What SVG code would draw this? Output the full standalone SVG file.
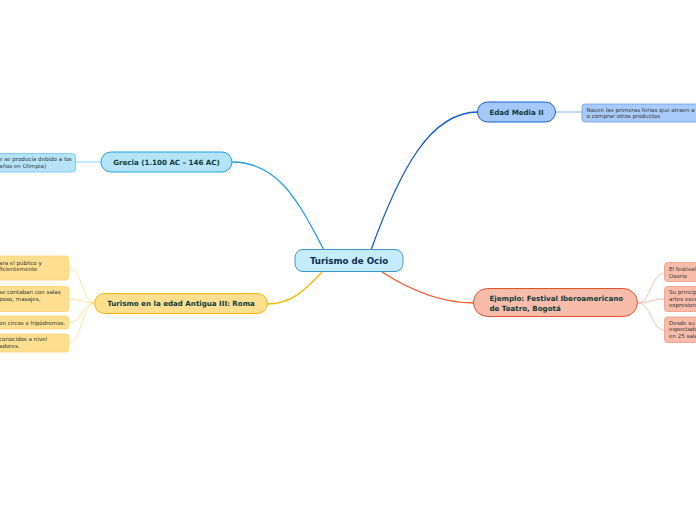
<svg xmlns="http://www.w3.org/2000/svg" width="696" height="520" viewBox="0 0 696 520">
<style>
text{font-family:"DejaVu Sans",Verdana,sans-serif}
.bt{font-weight:bold;font-size:7.1px;fill:#0f3b3a}
.ct{font-size:5.55px;fill:#333}
.main{fill:none;stroke-width:1.3}
.sub{fill:none;stroke-width:0.8}
</style>
<rect width="696" height="520" fill="#fff"/>
<g id="connectors">
<path class="main" d="M324,250 C300,205 280,162 232,162" stroke="#1aa0e8"/>
<path class="main" d="M371,250 C400,170 430,112 478,112" stroke="#0f5bd0"/>
<path class="main" d="M322,272 C305,290 292,304 267,304" stroke="#fbb800"/>
<path class="main" d="M382,272 C410,290 440,303 474,303" stroke="#f05a28"/>
<path class="sub" d="M101,162 L75,162" stroke="#6cc7f0"/>
<path class="sub" d="M556,112 L582,112" stroke="#6a9ef0"/>
<path class="sub" d="M95,303 C82,303 82,268 69,268" stroke="#fcd98a"/>
<path class="sub" d="M95,303 C82,303 82,299 69,299" stroke="#fcd98a"/>
<path class="sub" d="M95,303 C82,303 82,323 69,323" stroke="#fcd98a"/>
<path class="sub" d="M95,303 C82,303 82,343 69,343" stroke="#fcd98a"/>
<path class="sub" d="M638,303 C651,303 651,273 665,273" stroke="#f7ab96"/>
<path class="sub" d="M638,303 C651,303 651,299 665,299" stroke="#f7ab96"/>
<path class="sub" d="M638,303 C651,303 651,330 665,330" stroke="#f7ab96"/>
</g>
<g id="center">
<rect x="295" y="249.5" width="108" height="22" rx="8" fill="#c5ecfc" stroke="#3f95d2" stroke-width="1"/>
<text x="349" y="264" text-anchor="middle" font-size="8.7" font-weight="bold" fill="#0d2b4d">Turismo de Ocio</text>
</g>
<g id="grecia">
<rect x="101" y="152" width="131" height="20" rx="10" fill="#b5e3f8" stroke="#1ea1e6" stroke-width="1"/>
<text class="bt" x="166.5" y="164.5" text-anchor="middle">Grecia (1.100 AC – 146 AC)</text>
</g>
<g id="grecia-c1">
<rect x="-10" y="153.5" width="85.5" height="18.5" rx="3" fill="#b5e3f8" stroke="#6cc7f0" stroke-width="0.8"/>
<text class="ct" x="-1" y="160.5">e se producía debido a los</text>
<text class="ct" x="-1" y="167.5">años en Olimpia)</text>
</g>
<g id="edadmedia">
<rect x="477.5" y="102" width="78" height="20" rx="10" fill="#a4c8f8" stroke="#1a5fd1" stroke-width="1"/>
<text class="bt" x="516.5" y="114.5" text-anchor="middle">Edad Media II</text>
</g>
<g id="edadmedia-c1">
<rect x="582" y="104" width="130" height="18" rx="3" fill="#a8cbfa" stroke="#6a9ef0" stroke-width="0.8"/>
<text class="ct" x="586.5" y="111.5">Nacen las primeras ferias que atraen a</text>
<text class="ct" x="586.5" y="117.5">o comprar otros productos</text>
</g>
<g id="roma">
<rect x="94.5" y="293.5" width="173" height="20" rx="10" fill="#fddf8f" stroke="#f6b700" stroke-width="1"/>
<text class="bt" x="181" y="306" text-anchor="middle">Turismo en la edad Antigua III: Roma</text>
</g>
<g id="roma-c1">
<rect x="-10" y="256" width="79" height="24" rx="3" fill="#fddf8f" stroke="#fcd070" stroke-width="0.8"/>
<text class="ct" x="-1" y="265">ara el público y</text>
<text class="ct" x="-1" y="271">ficientemente</text>
</g>
<g id="roma-c2">
<rect x="-10" y="286.5" width="79" height="25" rx="3" fill="#fddf8f" stroke="#fcd070" stroke-width="0.8"/>
<text class="ct" x="-1" y="294">se contaban con salas</text>
<text class="ct" x="-1" y="300.5">poso, masajes,</text>
</g>
<g id="roma-c3">
<rect x="-10" y="316" width="79" height="13" rx="3" fill="#fddf8f" stroke="#fcd070" stroke-width="0.8"/>
<text class="ct" x="-1" y="324.5">on circos e hipódromos.</text>
</g>
<g id="roma-c4">
<rect x="-10" y="334" width="79" height="18" rx="3" fill="#fddf8f" stroke="#fcd070" stroke-width="0.8"/>
<text class="ct" x="-1" y="341">conocidos a nivel</text>
<text class="ct" x="-1" y="348">adores.</text>
</g>
<g id="ejemplo">
<rect x="473.5" y="288.5" width="164" height="28" rx="14" fill="#f8bdaa" stroke="#e8512a" stroke-width="1"/>
<text class="bt" x="489.5" y="301">Ejemplo: Festival Iberoamericano</text>
<text class="bt" x="489.5" y="310.5">de Teatro, Bogotá</text>
</g>
<g id="ejemplo-c1">
<rect x="664.5" y="262.5" width="45" height="19" rx="3" fill="#f8bdaa" stroke="#f39a80" stroke-width="0.8"/>
<text class="ct" x="669" y="271">El festival</text>
<text class="ct" x="669" y="277.5">Osorio</text>
</g>
<g id="ejemplo-c2">
<rect x="664.5" y="286.5" width="45" height="25" rx="3" fill="#f8bdaa" stroke="#f39a80" stroke-width="0.8"/>
<text class="ct" x="669" y="294">Su princip</text>
<text class="ct" x="669" y="300.5">artes escé</text>
<text class="ct" x="669" y="307">expresion</text>
</g>
<g id="ejemplo-c3">
<rect x="664.5" y="317" width="45" height="25.5" rx="3" fill="#f8bdaa" stroke="#f39a80" stroke-width="0.8"/>
<text class="ct" x="669" y="325">Desde su</text>
<text class="ct" x="669" y="331">espectado</text>
<text class="ct" x="669" y="337.5">en 25 sala</text>
</g>
</svg>
